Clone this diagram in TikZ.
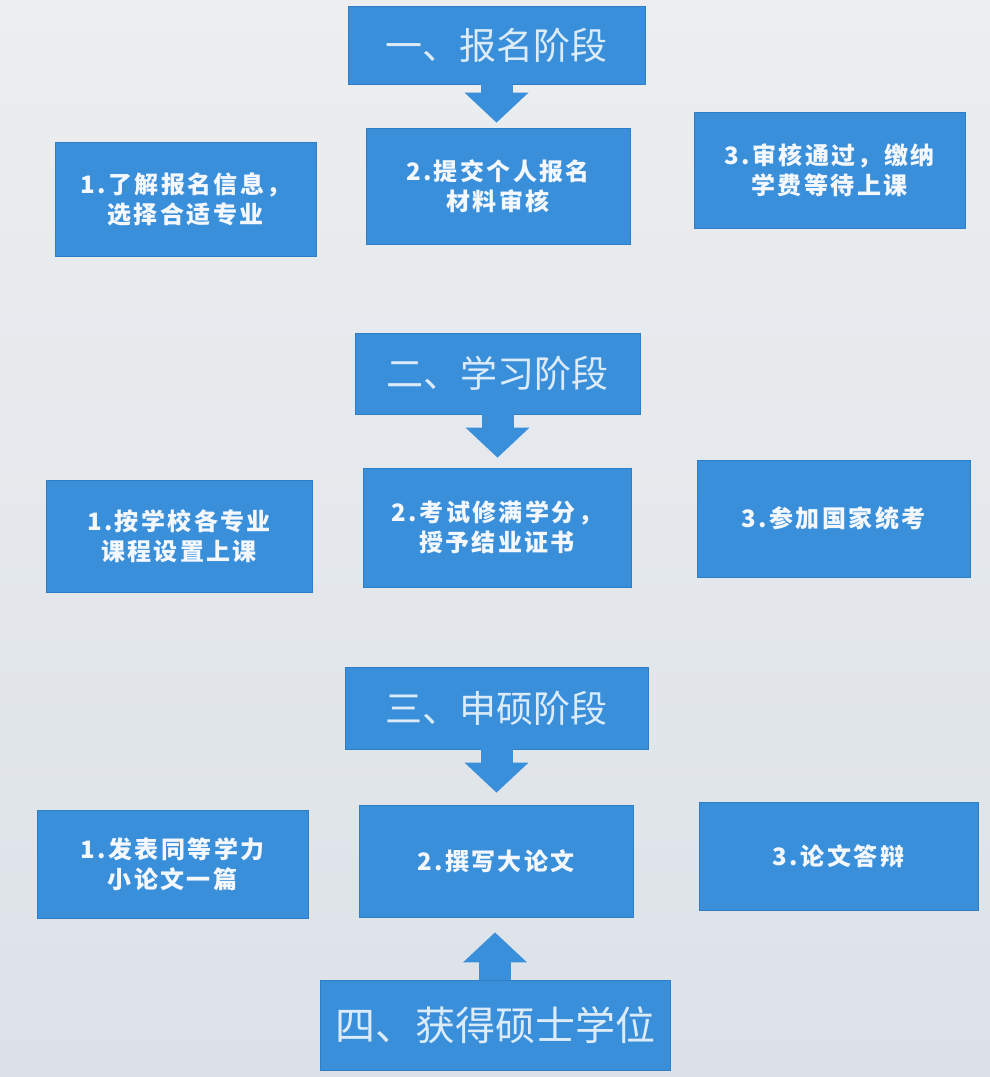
\documentclass[tikz,border=0pt]{standalone}
\usepackage{fontspec}
\newfontfamily\cjk{Noto Sans CJK SC}
\usetikzlibrary{arrows.meta,calc}
\definecolor{bgtop}{HTML}{ECEEF0}
\definecolor{bgbot}{HTML}{DCE2E8}
\definecolor{boxblue}{HTML}{3A8FDB}
\definecolor{boxedge}{HTML}{2F7DC4}
\definecolor{boxtext}{HTML}{F4F8FC}
\definecolor{headtext}{HTML}{DCEBF8}
\begin{document}
\begin{tikzpicture}[x=1pt,y=-1pt,
  stepbox/.style={fill=boxblue, draw=boxedge, line width=0.8pt, text=boxtext,
    font=\cjk\bfseries\fontsize{24}{30}\selectfont\addfontfeature{LetterSpace=10},
    align=center, inner sep=0pt},
  headbox/.style={fill=boxblue, draw=boxedge, line width=0.8pt, text=headtext,
    font=\cjk\fontsize{37}{44}\selectfont, inner sep=0pt},
  bigarrow/.style={draw=boxblue, line width=32pt,
    -{Triangle[width=64pt,length=30pt,line width=0pt]}}]
\shade[top color=bgtop, bottom color=bgbot] (0,0) rectangle (990,1077);
\useasboundingbox (0,0) rectangle (990,1077);

% stage 1
\node[headbox, minimum width=297pt, minimum height=78pt] (h1) at (496.5,45) {一、报名阶段};
\node[stepbox, minimum width=261pt, minimum height=114pt] (b11) at (185.5,199) {1.了解报名信息，\\选择合适专业};
\node[stepbox, minimum width=264pt, minimum height=116pt] (b12) at (498,186) {2.提交个人报名\\材料审核};
\node[stepbox, minimum width=271pt, minimum height=116pt] (b13) at (829.5,170) {3.审核通过，缴纳\\学费等待上课};

% stage 2
\node[headbox, minimum width=285pt, minimum height=81pt] (h2) at (497.5,373.5) {二、学习阶段};
\node[stepbox, minimum width=266pt, minimum height=112pt] (b21) at (179,536) {1.按学校各专业\\课程设置上课};
\node[stepbox, minimum width=268pt, minimum height=119pt] (b22) at (497,527.5) {2.考试修满学分，\\授予结业证书};
\node[stepbox, minimum width=273pt, minimum height=117pt] (b23) at (833.5,518.5) {3.参加国家统考};

% stage 3
\node[headbox, minimum width=303pt, minimum height=82pt] (h3) at (496.5,708) {三、申硕阶段};
\node[stepbox, minimum width=271pt, minimum height=108pt] (b31) at (172.5,864) {1.发表同等学力\\小论文一篇};
\node[stepbox, minimum width=274pt, minimum height=112pt] (b32) at (496,861) {2.撰写大论文};
\node[stepbox, minimum width=279pt, minimum height=108pt] (b33) at (838.5,856) {3.论文答辩};

% stage 4
\node[headbox, minimum width=350pt, minimum height=90pt, font=\cjk\fontsize{40}{46}\selectfont] (h4) at (495,1025) {四、获得硕士学位};

% arrows
\draw[bigarrow] (h1.south) -- ($(h1.south |- b12.north)+(0,-5)$);
\draw[bigarrow] (h2.south) -- ($(h2.south |- b22.north)+(0,-10)$);
\draw[bigarrow] (h3.south) -- ($(h3.south |- b32.north)+(0,-12)$);
\draw[bigarrow] (h4.north) -- ($(h4.north |- b32.south)+(0,15)$);
\end{tikzpicture}
\end{document}
